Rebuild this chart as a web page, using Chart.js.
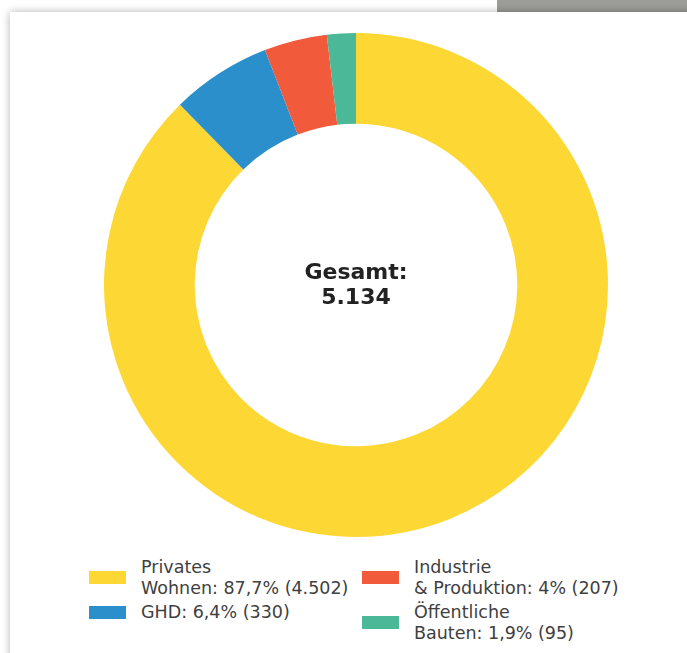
<!DOCTYPE html>
<html>
<head>
<meta charset="utf-8">
<script src="https://cdn.jsdelivr.net/npm/chart.js@4.4.0/dist/chart.umd.min.js"></script>
<style>
	html, body { margin: 0; padding: 0; }
	body { width: 687px; height: 653px; background: #fff; position: relative; overflow: hidden; font-family: "DejaVu Sans", sans-serif; }
	#topbar { position: absolute; left: 497px; top: 0; width: 190px; height: 12px; background: #9c9c98; }
	#card { position: absolute; left: 10px; top: 12px; width: 700px; height: 660px; background: #fff; box-shadow: 0 0 8px rgba(0, 0, 0, 0.3); }
	#wrap { position: absolute; left: 104px; top: 33px; width: 504px; height: 504px; }
	#legend { position: absolute; left: 89px; top: 557px; display: grid; grid-template-columns: 273px auto; row-gap: 4px; align-items: start; }
	.item { display: flex; align-items: center; }
	.swatch { width: 37px; height: 12.5px; margin-right: 15px; flex: none; }
	.text { font-size: 17.5px; line-height: 20.5px; color: #404040; white-space: nowrap; }
</style>
</head>
<body>
<div id="topbar"></div>
<div id="card"></div>
<div id="wrap"><canvas id="chart" width="504" height="504"></canvas></div>
<div id="legend"></div>
<script>
	'use strict';

	var labels = ['Privates Wohnen', 'GHD', 'Industrie & Produktion', 'Öffentliche Bauten'];
	var values = [4502, 330, 207, 95];
	var colors = ['#FDD835', '#2A8FCA', '#F15A3B', '#4BB898'];
	var totalLabel = 'Gesamt:';

	var total = 0;
	for (var i = 0; i < values.length; i++) {
		total += values[i];
	}
	var numFmt = new Intl.NumberFormat('de-DE');
	var pctFmt = new Intl.NumberFormat('de-DE', {maximumFractionDigits: 1});

	// legend, two columns filled top to bottom like the original
	var legendEl = document.getElementById('legend');
	var half = Math.ceil(labels.length / 2);
	var order = [];
	for (var r = 0; r < half; r++) {
		order.push(r);
		if (r + half < labels.length) order.push(r + half);
	}
	order.forEach(function (idx) {
		var name = labels[idx];
		var sp = name.indexOf(' ');
		var pct = pctFmt.format(Math.round(values[idx] / total * 1000) / 10) + '%';
		var tail = ': ' + pct + ' (' + numFmt.format(values[idx]) + ')';
		var html = sp > 0 ? name.slice(0, sp) + '<br>' + name.slice(sp + 1) + tail : name + tail;
		var item = document.createElement('div');
		item.className = 'item';
		item.innerHTML = '<span class="swatch" style="background:' + colors[idx] + '"></span><span class="text">' + html + '</span>';
		legendEl.appendChild(item);
	});

	var centerText = {
		id: 'centerText',
		afterDraw: function (chart) {
			var arc = chart.getDatasetMeta(0).data[0];
			var ctx = chart.ctx;
			ctx.save();
			ctx.font = 'bold 22px "DejaVu Sans"';
			ctx.fillStyle = '#222';
			ctx.textAlign = 'center';
			ctx.textBaseline = 'alphabetic';
			ctx.fillText(totalLabel, arc.x, arc.y - 6);
			ctx.fillText(numFmt.format(total), arc.x, arc.y + 19);
			ctx.restore();
		}
	};

	var data = {
		labels: labels,
		datasets: [
			{
				data: values,
				backgroundColor: colors,
				borderWidth: 0,
				hoverOffset: 0
			}
		]
	};

	var config = {
		type: 'doughnut',
		data: data,
		options: {
			responsive: false,
			animation: false,
			cutout: '64%',
			layout: { padding: 0 },
			plugins: {
				legend: { display: false },
				tooltip: { enabled: false }
			}
		},
		plugins: [centerText]
	};

	var chart = new Chart(document.getElementById('chart'), config);
</script>
</body>
</html>
